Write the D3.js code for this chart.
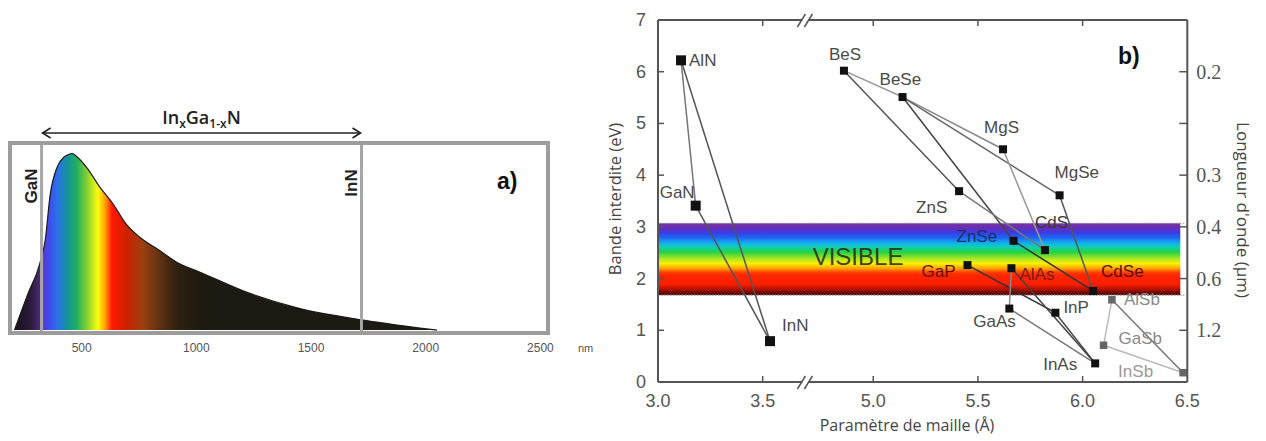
<!DOCTYPE html>
<html><head><meta charset="utf-8">
<script src="https://cdn.jsdelivr.net/npm/d3@7"></script>
<style>body{margin:0;background:#fff} svg{display:block}</style>
</head><body>
<svg id="c" width="1266" height="441"></svg>
<script>
// ---------- Panel a) data ----------
const specWavelength = [207, 264, 317, 341, 363, 392, 420, 442, 458, 478, 522, 579, 637, 694, 752, 838, 925, 1011, 1227, 1443, 1728, 1875, 2005, 2050];
const specIntensity  = [0, 0.2, 0.375, 0.51, 0.77, 0.92, 0.977, 0.994, 1.0, 0.983, 0.92, 0.81, 0.714, 0.60, 0.527, 0.452, 0.376, 0.33, 0.21, 0.124, 0.056, 0.028, 0.006, 0];
const specTicks = [500, 1000, 1500, 2000, 2500];
const edgeNames = ["GaN", "InN"];
const edgeWavelength = [325, 1720];

// ---------- Panel b) data ----------
const materials    = ["AlN","GaN","InN","BeS","BeSe","MgS","MgSe","ZnS","ZnSe","CdS","CdSe","GaP","AlAs","GaAs","InP","InAs","AlSb","GaSb","InSb"];
const latticeConst = [3.11, 3.18, 3.535, 4.86, 5.14, 5.62, 5.89, 5.41, 5.67, 5.82, 6.05, 5.45, 5.66, 5.65, 5.87, 6.06, 6.14, 6.10, 6.48];
const bandGap      = [6.22, 3.41, 0.79, 6.02, 5.51, 4.5, 3.61, 3.69, 2.73, 2.55, 1.76, 2.26, 2.2, 1.42, 1.34, 0.36, 1.59, 0.71, 0.18];
const alloyFrom = ["AlN","AlN","GaN","BeS","BeS","BeSe","BeSe","BeSe","MgS","MgSe","ZnS","ZnSe","GaP","AlAs","AlAs","InP","GaAs","AlSb","GaSb","AlSb"];
const alloyTo   = ["GaN","InN","InN","BeSe","ZnS","ZnSe","MgS","MgSe","CdS","CdSe","CdS","CdSe","InP","GaAs","InAs","InAs","InAs","GaSb","InSb","InSb"];
const xTicks = [3.0, 3.5, 5.0, 5.5, 6.0, 6.5];
const yTicks = [0, 1, 2, 3, 4, 5, 6, 7];
const wlTickEnergy = [1, 2, 3, 4, 5, 6];
const wlTickLabels = ["1.2", "0.6", "0.4", "0.3", "", "0.2"];
const visibleRange = [1.68, 3.07];

const svg = d3.select("#c");
const defs = svg.append("defs");

// ================= Panel a =================
(function(){
  const fx0 = 10, fx1 = 548, fy0 = 143, fy1 = 333;
  const xs = d3.scaleLinear().domain([500, 2500]).range([81.7, 540.4]);
  const ys = d3.scaleLinear().domain([0, 1]).range([330, 153.5]);
  const g = svg.append("g");

  const grad = defs.append("linearGradient").attr("id","specGrad")
    .attr("gradientUnits","userSpaceOnUse")
    .attr("x1", xs(200)).attr("x2", xs(1100)).attr("y1",0).attr("y2",0);
  const stops = [[200,"#151015"],[275,"#2a1a3a"],[318,"#4a2a70"],[327,"#5a34c8"],[362,"#3c50f0"],
    [397,"#2a74e6"],[436,"#12929c"],[480,"#22b060"],[523,"#86d030"],[571,"#fcfc10"],
    [602,"#ffa000"],[632,"#ff1800"],[698,"#cc2200"],[767,"#9a4010"],[841,"#5e3212"],[916,"#2e2010"],[1016,"#1e1a10"],[1100,"#1c1a12"]];
  stops.forEach(s => grad.append("stop")
    .attr("offset", ((s[0]-200)/900)).attr("stop-color", s[1]));

  const pts = specWavelength.map((w,i)=>[w, specIntensity[i]]);
  const area = d3.area().x(d=>xs(d[0])).y0(ys(0)).y1(d=>ys(d[1])).curve(d3.curveMonotoneX);
  const line = d3.line().x(d=>xs(d[0])).y(d=>ys(d[1])).curve(d3.curveMonotoneX);
  g.append("path").attr("d", area(pts)).attr("fill","url(#specGrad)");
  g.append("path").attr("d", line(pts)).attr("fill","none").attr("stroke","#1a1a1a").attr("stroke-width",1.2);

  edgeWavelength.forEach(w => {
    g.append("line").attr("x1", xs(w)).attr("x2", xs(w)).attr("y1", fy0).attr("y2", fy1)
      .attr("stroke","#a6a6a6").attr("stroke-width",3);
  });
  g.append("rect").attr("x",fx0).attr("y",fy0).attr("width",fx1-fx0).attr("height",fy1-fy0)
    .attr("fill","none").attr("stroke","#9c9c9c").attr("stroke-width",4);

  edgeNames.forEach((n,i) => {
    g.append("text").attr("transform", `translate(${xs(edgeWavelength[i])-10},${i===0?186:183}) rotate(-90)`)
      .attr("text-anchor","middle").attr("dominant-baseline","central")
      .attr("font-family","Liberation Sans, Arial, sans-serif").attr("font-weight","bold")
      .attr("font-size",17).attr("fill","#222").text(n);
  });

  specTicks.forEach(t => {
    g.append("text").attr("x", xs(t)).attr("y", 352).attr("text-anchor","middle")
      .attr("font-family","Liberation Sans Narrow, Liberation Sans, Arial, sans-serif")
      .attr("font-size",12).attr("fill","#555").text(t);
  });
  g.append("text").attr("x", 578).attr("y", 352).attr("font-family","Liberation Sans, Arial, sans-serif")
    .attr("font-size",11).attr("fill","#555").text("nm");

  const ax0 = xs(edgeWavelength[0]) + 1, ax1 = xs(edgeWavelength[1]) - 1, ay = 133;
  g.append("line").attr("x1",ax0).attr("x2",ax1).attr("y1",ay).attr("y2",ay)
    .attr("stroke","#222").attr("stroke-width",1.6);
  g.append("path").attr("d",`M${ax0+8},${ay-5}L${ax0},${ay}L${ax0+8},${ay+5}`)
    .attr("fill","none").attr("stroke","#222").attr("stroke-width",1.6);
  g.append("path").attr("d",`M${ax1-8},${ay-5}L${ax1},${ay}L${ax1-8},${ay+5}`)
    .attr("fill","none").attr("stroke","#222").attr("stroke-width",1.6);

  const tt = g.append("text").attr("x", (ax0+ax1)/2).attr("y", 124).attr("text-anchor","middle")
    .attr("font-family","Open Sans, Liberation Sans, sans-serif").attr("font-weight",600)
    .attr("font-size",18).attr("fill","#222");
  tt.append("tspan").text("In");
  tt.append("tspan").attr("font-size",12).attr("dy",4).text("x");
  tt.append("tspan").attr("dy",-4).text("Ga");
  tt.append("tspan").attr("font-size",12).attr("dy",4).text("1-x");
  tt.append("tspan").attr("dy",-4).text("N");

  g.append("text").attr("x",497).attr("y",189).attr("font-family","Liberation Sans, Arial, sans-serif")
    .attr("font-weight","bold").attr("font-size",23).attr("fill","#111").text("a)");
})();

// ================= Panel b =================
(function(){
  const x0 = 658, x1 = 1187.3, yTop = 20, yBot = 382;
  const brk = [3.64, 4.74];
  const span = (brk[0]-3.0) + (6.5-brk[1]);
  const gap = 26.8;
  const k = (x1 - x0 - gap) / span;
  const xs = d3.scaleLinear().domain([3.0, brk[0], brk[1], 6.5])
    .range([x0, x0 + (brk[0]-3.0)*k, x0 + (brk[0]-3.0)*k + gap, x1]);
  const ys = d3.scaleLinear().domain([0, 7]).range([yBot, yTop]);
  const g = svg.append("g");
  const axisColor = "#555";
  const sans = "Liberation Sans, Arial, sans-serif";

  const bg = defs.append("linearGradient").attr("id","visGrad").attr("x1",0).attr("x2",0).attr("y1",0).attr("y2",1);
  [[0,"#7434a4"],[0.06,"#6a2cb2"],[0.13,"#3a3ce4"],[0.2,"#2064f2"],[0.27,"#12aaf0"],[0.33,"#10d0b4"],
   [0.4,"#22d244"],[0.5,"#b4e820"],[0.56,"#f8f000"],[0.63,"#ffa000"],[0.68,"#ff4400"],[0.72,"#ff2600"],
   [0.85,"#fa2000"],[0.92,"#b01000"],[1,"#400000"]].forEach(s => bg.append("stop").attr("offset",s[0]).attr("stop-color",s[1]));
  g.append("rect").attr("x", x0).attr("y", ys(visibleRange[1])).attr("width", x1 - 7 - x0)
    .attr("height", ys(visibleRange[0]) - ys(visibleRange[1])).attr("fill","url(#visGrad)");
  visibleRange.forEach(v => g.append("line").attr("x1",x0).attr("x2",x1-3).attr("y1",ys(v)).attr("y2",ys(v))
    .attr("stroke", "#999").attr("stroke-width",1.2).attr("stroke-dasharray","1.5,1.5"));
  g.append("text").attr("x", xs(3.75)+18).attr("y", 265).attr("font-family",sans).attr("font-size",24)
    .attr("fill","#2a2a1a").attr("fill-opacity",0.9).text("VISIBLE");

  const idx = {}; materials.forEach((m,i)=>idx[m]=i);
  const lineColor = {"AlN-GaN":"#777","AlN-InN":"#555","GaN-InN":"#555","BeS-BeSe":"#999","BeS-ZnS":"#555",
    "BeSe-ZnSe":"#444","BeSe-MgS":"#888","BeSe-MgSe":"#666","MgS-CdS":"#999","MgSe-CdSe":"#555","ZnS-CdS":"#777",
    "ZnSe-CdSe":"#333","GaP-InP":"#333","AlAs-GaAs":"#888","AlAs-InAs":"#444","InP-InAs":"#444","GaAs-InAs":"#777",
    "AlSb-GaSb":"#bbb","GaSb-InSb":"#bbb","AlSb-InSb":"#777"};
  alloyFrom.forEach((a,i) => {
    const b = alloyTo[i], ia = idx[a], ib = idx[b];
    g.append("line").attr("x1", xs(latticeConst[ia])).attr("y1", ys(bandGap[ia]))
      .attr("x2", xs(latticeConst[ib])).attr("y2", ys(bandGap[ib]))
      .attr("stroke", lineColor[a+"-"+b] || "#666").attr("stroke-width",1.5);
  });

  materials.forEach((m,i) => {
    const big = ["AlN","GaN","InN"].includes(m), sb = ["AlSb","GaSb","InSb"].includes(m);
    const s = big ? 10 : (sb ? 7.5 : 8);
    g.append("rect").attr("x", xs(latticeConst[i]) - s/2).attr("y", ys(bandGap[i]) - s/2)
      .attr("width", s).attr("height", s).attr("fill", sb ? "#666" : "#111");
  });

  const labelOff = {AlN:[8,6],GaN:[-36,-8],InN:[12,-10],BeS:[-15,-11],BeSe:[-23,-12],MgS:[-19,-16],MgSe:[-5,-17],
    ZnS:[-43,22],CdS:[-10,-22],ZnSe:[-57,1],GaP:[-46,12],AlAs:[8,12],CdSe:[8,-14],InP:[8,0],GaAs:[-36,18],
    InAs:[-52,7],AlSb:[12,5],GaSb:[15,-1],InSb:[-65,4]};
  const labelCol = {ZnSe:"#1c3060",GaP:"#6a0c0c",AlAs:"#7a1a1a",CdSe:"#5a0c0c",CdS:"#3a3a3a",
    AlSb:"#8a8a8a",GaSb:"#8a8a8a",InSb:"#999"};
  materials.forEach((m,i) => {
    const o = labelOff[m];
    g.append("text").attr("x", xs(latticeConst[i]) + o[0]).attr("y", ys(bandGap[i]) + o[1])
      .attr("font-family", sans).attr("font-size", 17).attr("fill", labelCol[m] || "#4a4a4a").text(m);
  });

  const bx = (xs(brk[0]) + xs(brk[1])) / 2;
  [yTop, yBot].forEach(yy => {
    g.append("line").attr("x1",x0).attr("x2",bx-3).attr("y1",yy).attr("y2",yy).attr("stroke",axisColor).attr("stroke-width",2);
    g.append("line").attr("x1",bx+3).attr("x2",x1).attr("y1",yy).attr("y2",yy).attr("stroke",axisColor).attr("stroke-width",2);
    g.append("line").attr("x1",bx-8).attr("y1",yy+7).attr("x2",bx).attr("y2",yy-6).attr("stroke",axisColor).attr("stroke-width",1.5);
    g.append("line").attr("x1",bx-1).attr("y1",yy+7).attr("x2",bx+7).attr("y2",yy-6).attr("stroke",axisColor).attr("stroke-width",1.5);
  });
  g.append("line").attr("x1",x0).attr("x2",x0).attr("y1",yTop).attr("y2",yBot).attr("stroke",axisColor).attr("stroke-width",2);
  g.append("line").attr("x1",x1).attr("x2",x1).attr("y1",yTop).attr("y2",yBot).attr("stroke",axisColor).attr("stroke-width",2);

  xTicks.forEach(t => {
    if (t > 3.0 && t < 6.5) {
      g.append("line").attr("x1",xs(t)).attr("x2",xs(t)).attr("y1",yBot).attr("y2",yBot-6).attr("stroke",axisColor).attr("stroke-width",1.5);
      g.append("line").attr("x1",xs(t)).attr("x2",xs(t)).attr("y1",yTop).attr("y2",yTop+6).attr("stroke",axisColor).attr("stroke-width",1.5);
    }
    g.append("text").attr("x", xs(t)).attr("y", 407).attr("text-anchor","middle").attr("font-family",sans)
      .attr("font-size",18).attr("fill","#555").text(d3.format(".1f")(t));
  });
  yTicks.forEach(t => {
    if (t > 0 && t < 7) g.append("line").attr("x1",x0).attr("x2",x0+6).attr("y1",ys(t)).attr("y2",ys(t)).attr("stroke",axisColor).attr("stroke-width",1.5);
    g.append("text").attr("x", 646).attr("y", ys(t)).attr("text-anchor","end").attr("dominant-baseline","central")
      .attr("font-family",sans).attr("font-size",18).attr("fill","#555").text(t);
  });
  wlTickEnergy.forEach((e,i) => {
    g.append("line").attr("x1",x1).attr("x2",x1-8).attr("y1",ys(e)).attr("y2",ys(e)).attr("stroke",axisColor).attr("stroke-width",1.5);
    if (wlTickLabels[i]) g.append("text").attr("x", x1+9).attr("y", ys(e)).attr("dominant-baseline","central")
      .attr("font-family","Liberation Serif, Times New Roman, serif").attr("font-size",20).attr("fill","#555").text(wlTickLabels[i]);
  });

  g.append("text").attr("transform","translate(614,199) rotate(-90)").attr("text-anchor","middle")
    .attr("dominant-baseline","central").attr("font-family","Open Sans, sans-serif").attr("font-size",16.5)
    .attr("fill","#444").text("Bande interdite (eV)");
  g.append("text").attr("x",907).attr("y",431).attr("text-anchor","middle")
    .attr("font-family","Open Sans, sans-serif").attr("font-size",16).attr("fill","#444").text("Paramètre de maille (Å)");
  g.append("text").attr("transform","translate(1243,210) rotate(90)").attr("text-anchor","middle")
    .attr("dominant-baseline","central").attr("font-family","Open Sans, sans-serif").attr("font-size",17)
    .attr("fill","#444").text("Longueur d'onde (µm)");
  g.append("text").attr("x",1118).attr("y",64).attr("font-family",sans).attr("font-weight","bold")
    .attr("font-size",23).attr("fill","#111").text("b)");
})();
</script>
</body></html>
